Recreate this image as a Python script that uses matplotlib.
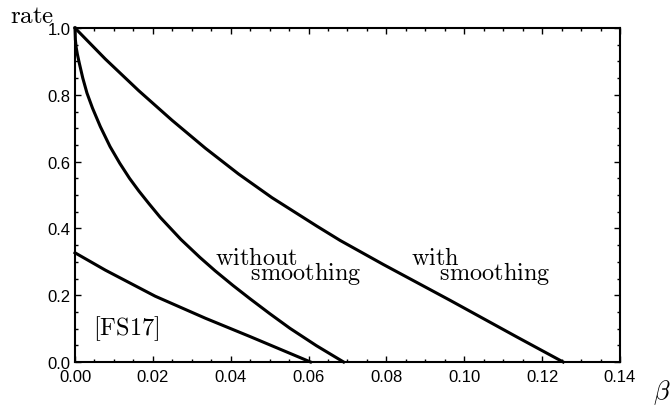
import numpy as np
import matplotlib
matplotlib.use("Agg")
import matplotlib.pyplot as plt
from matplotlib.ticker import MultipleLocator

plt.rcParams['mathtext.fontset'] = 'cm'
plt.rcParams['font.family'] = ['Liberation Sans', 'DejaVu Sans']

# data
beta_with = [0.0, 0.0078, 0.0164, 0.0249, 0.0335, 0.0420, 0.0506, 0.0621, 0.0681,
             0.0792, 0.0963, 0.1135, 0.1254]
rate_with = [1.0, 0.907, 0.812, 0.724, 0.640, 0.563, 0.492, 0.407, 0.364,
             0.292, 0.185, 0.075, 0.0]

beta_without = [0.0, 0.0001, 0.0003, 0.0006, 0.0011, 0.002, 0.00308, 0.0045, 0.0065,
                0.009, 0.0115, 0.014, 0.0164, 0.019, 0.0219, 0.0272, 0.0321, 0.036,
                0.0406, 0.045, 0.050, 0.0552, 0.062, 0.069]
rate_without = [1.0, 0.965, 0.942, 0.922, 0.895, 0.850, 0.805, 0.76, 0.705,
                0.645, 0.595, 0.550, 0.512, 0.474, 0.433, 0.367, 0.313, 0.273,
                0.229, 0.189, 0.145, 0.101, 0.049, 0.0]

beta_fs17 = [0.0, 0.0078, 0.0206, 0.0335, 0.045, 0.0605]
rate_fs17 = [0.327, 0.275, 0.197, 0.131, 0.076, 0.0]

xticks = [0.00, 0.02, 0.04, 0.06, 0.08, 0.10, 0.12, 0.14]
yticks = [0.0, 0.2, 0.4, 0.6, 0.8, 1.0]

fig = plt.figure(figsize=(6.7, 4.06), dpi=100)
ax = fig.add_axes([75/670, 43/406, 545/670, 334/406])

for b, r in [(beta_with, rate_with), (beta_without, rate_without), (beta_fs17, rate_fs17)]:
    ax.plot(b, r, color='black', lw=2.2, solid_joinstyle='round', clip_on=False)

ax.set_xlim(0, 0.14)
ax.set_ylim(0, 1.0)
ax.set_xticks(xticks)
ax.set_xticklabels([f"{v:.2f}" for v in xticks])
ax.set_yticks(yticks)
ax.set_yticklabels([f"{v:.1f}" for v in yticks])
ax.xaxis.set_minor_locator(MultipleLocator(0.005))
ax.yaxis.set_minor_locator(MultipleLocator(0.05))
ax.tick_params(which='both', direction='in', top=True, right=True, width=1.0, labelsize=12)
ax.tick_params(which='major', length=4.5)
ax.tick_params(which='minor', length=2.3)
ax.tick_params(axis='x', pad=5)
ax.tick_params(axis='y', pad=3)
for s in ax.spines.values():
    s.set_linewidth(1.5)

def put(px, py, s, size=17.5, ls=1.2):
    fig.text(px/670, 1 - py/406, s, fontsize=size, ha='left', va='baseline',
             multialignment='left', linespacing=ls)

put(10, 23, r'$\mathrm{rate}$', 18)
put(653, 399, r'$\beta$', 19)
put(215, 280, r'$\mathrm{without}$' + '\n' + r'$\quad\enspace\,\mathrm{smoothing}$', ls=0.5)
put(411, 280, r'$\mathrm{with}$' + '\n' + r'$\quad\,\,\mathrm{smoothing}$', ls=0.5)
put(93, 335, r'$\mathrm{[FS17]}$')

fig.savefig('out.png', dpi=100)
